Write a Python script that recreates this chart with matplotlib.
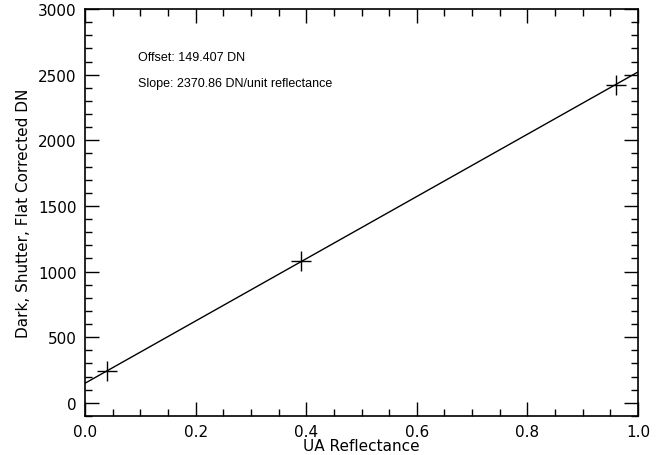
import matplotlib
matplotlib.use('Agg')
import matplotlib.pyplot as plt
import numpy as np
from matplotlib.ticker import MultipleLocator

# measured points
reflectance = [0.04, 0.39, 0.96]
dn_values = [240, 1080, 2420]

# linear fit coefficients
offset = 149.407
slope = 2370.86

fig = plt.figure(figsize=(6.62, 4.56), dpi=100)
ax = fig.add_axes([85 / 662, 1 - 417 / 456, 553 / 662, 407 / 456])

xfit = np.array([0.0, 1.0])
ax.plot(xfit, offset + slope * xfit, color='black', linewidth=1.0)
ax.plot(reflectance, dn_values, linestyle='none', marker='+', markersize=15,
        markeredgewidth=1.0, color='black')

ax.set_xlim(0, 1)
ax.set_ylim(-100, 3000)
ax.xaxis.set_major_locator(MultipleLocator(0.2))
ax.xaxis.set_minor_locator(MultipleLocator(0.05))
ax.yaxis.set_major_locator(MultipleLocator(500))
ax.yaxis.set_minor_locator(MultipleLocator(100))
ax.xaxis.set_major_formatter(plt.FuncFormatter(lambda v, p: f'{v:.1f}'))

ax.tick_params(which='both', direction='in', top=True, right=True,
               labelsize=11, width=1.0)
ax.tick_params(axis='x', pad=6)
ax.tick_params(axis='y', pad=6)
ax.tick_params(which='major', length=10)
ax.tick_params(which='minor', length=5)
for s in ax.spines.values():
    s.set_linewidth(1.2)

ax.text(0.096, 2638, 'Offset: 149.407 DN', fontsize=9, va='center', ha='left',
        family='Liberation Sans')
ax.text(0.096, 2433, 'Slope: 2370.86 DN/unit reflectance', fontsize=9,
        va='center', ha='left', family='Liberation Sans')

ax.set_xlabel('UA Reflectance', fontsize=11, labelpad=-1)
ax.set_ylabel('Dark, Shutter, Flat Corrected DN', fontsize=11, labelpad=5)

fig.savefig('out.png', dpi=100)
